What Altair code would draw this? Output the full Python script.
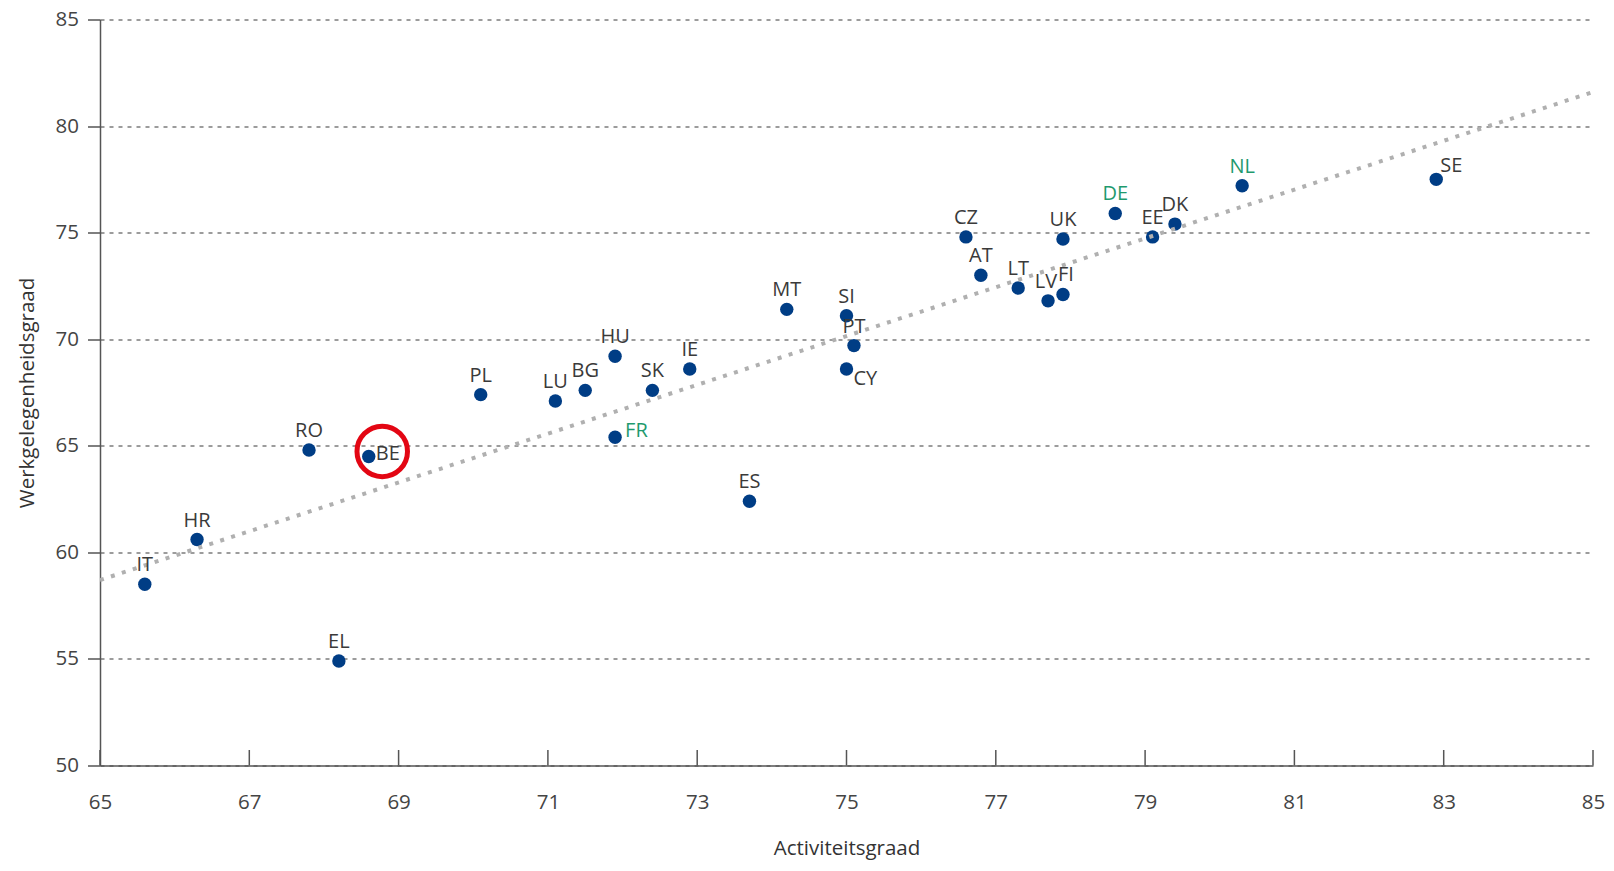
import altair as alt
import pandas as pd

countries = ["IT", "HR", "RO", "BE", "EL", "PL", "LU", "BG", "HU", "FR", "SK", "IE", "ES", "MT",
             "SI", "PT", "CY", "CZ", "AT", "LT", "LV", "FI", "UK", "DE", "EE", "DK", "NL", "SE"]
activiteitsgraad = [65.6, 66.3, 67.8, 68.6, 68.2, 70.1, 71.1, 71.5, 71.9, 71.9, 72.4, 72.9, 73.7, 74.2,
                    75.0, 75.1, 75.0, 76.6, 76.8, 77.3, 77.7, 77.9, 77.9, 78.6, 79.1, 79.4, 80.3, 82.9]
werkgelegenheidsgraad = [58.5, 60.6, 64.8, 64.5, 54.9, 67.4, 67.1, 67.6, 69.2, 65.4, 67.6, 68.6, 62.4, 71.4,
                         71.1, 69.7, 68.6, 74.8, 73.0, 72.4, 71.8, 72.1, 74.7, 75.9, 74.8, 75.4, 77.2, 77.5]
green_labels = ["DE", "NL", "FR"]
highlight = ["BE"]

trend_x = [65, 85]
trend_y = [58.7, 81.6]

x_ticks = [65, 67, 69, 71, 73, 75, 77, 79, 81, 83, 85]
y_ticks = [50, 55, 60, 65, 70, 75, 80, 85]

df = pd.DataFrame({"country": countries, "x": activiteitsgraad, "y": werkgelegenheidsgraad})
trend = pd.DataFrame({"x": trend_x, "y": trend_y})
ticks = pd.DataFrame({"x": x_ticks})

FONT = "Open Sans"
W, H = 1493, 746
LBL = 20
TICKFS = 20.5

xscale = alt.Scale(domain=[65, 85], nice=False, zero=False)
yscale = alt.Scale(domain=[50, 85], nice=False, zero=False)

x_enc = alt.X("x:Q", scale=xscale, axis=alt.Axis(
    values=x_ticks, format="d", title="Activiteitsgraad", grid=False, ticks=False, tickSize=0,
    labelPadding=27, labelFontSize=TICKFS, labelColor="#444", labelFont=FONT, labelFlush=False,
    titleFont=FONT, titleFontSize=20.5, titleFontWeight="normal", titleColor="#333", titlePadding=25,
    domainColor="#555", domainWidth=1.5))
y_enc = alt.Y("y:Q", scale=yscale, axis=alt.Axis(
    values=y_ticks, format="d", title="Werkgelegenheidsgraad", grid=True, gridColor="#3a3a3a",
    gridDash=[4, 5], gridWidth=1.2, tickSize=12.5, tickColor="#555", tickWidth=1.5, labelPadding=9,
    labelFontSize=TICKFS, labelColor="#444", labelFont=FONT, labelFlush=False, titleFont=FONT,
    titleFontSize=20.5, titleFontWeight="normal", titleColor="#333", titlePadding=18,
    domainColor="#555", domainWidth=1.5))

base = alt.Chart(df)

trend_line = alt.Chart(trend).mark_line(color="#b0b0b0", strokeWidth=4, strokeDash=[4, 7.5], clip=True).encode(
    x=alt.X("x:Q", scale=xscale), y=alt.Y("y:Q", scale=yscale))

inner_ticks = alt.Chart(ticks).mark_rule(color="#555", strokeWidth=1.5).encode(
    x=alt.X("x:Q", scale=xscale), y=alt.value(H), y2=alt.value(H - 15.5))

points = base.mark_circle(size=180, opacity=1, color="#003d85").encode(x=x_enc, y=y_enc)

label_color = alt.condition(alt.FieldOneOfPredicate(field="country", oneOf=green_labels),
                            alt.value("#1f9a6e"), alt.value("#3a3a3a"))

special = ["BE", "FR", "CY", "SE", "LV", "FI"]

labels_above = base.transform_filter(
    ~alt.FieldOneOfPredicate(field="country", oneOf=special)
).mark_text(font=FONT, fontSize=LBL, align="center", baseline="alphabetic", dy=-13).encode(
    x=alt.X("x:Q", scale=xscale), y=alt.Y("y:Q", scale=yscale), text="country:N", color=label_color)

def side_label(code, dx, dy, align="left"):
    return base.transform_filter(alt.datum.country == code).mark_text(
        font=FONT, fontSize=LBL, align=align, baseline="alphabetic", dx=dx, dy=dy).encode(
        x=alt.X("x:Q", scale=xscale), y=alt.Y("y:Q", scale=yscale), text="country:N", color=label_color)

circle = base.transform_filter(
    alt.FieldOneOfPredicate(field="country", oneOf=highlight)
).mark_point(shape="circle", filled=False, size=2550, strokeWidth=5, color="#e30613", opacity=1,
             xOffset=13.5, yOffset=-5).encode(x=alt.X("x:Q", scale=xscale), y=alt.Y("y:Q", scale=yscale))

chart = alt.layer(
    points, trend_line, inner_ticks, labels_above,
    side_label("BE", 7, 3.5), side_label("FR", 10, -0.5), side_label("CY", 7, 15.5), side_label("SE", 4, -7),
    side_label("LV", -2, -13, "center"), side_label("FI", 3, -13, "center"),
    circle
).properties(
    width=W, height=H,
    autosize=alt.AutoSizeParams(type="none"),
    padding={"left": 92, "top": 11.5, "right": 13, "bottom": 97.5},
    background="white"
).configure_view(stroke=None)

chart.save("out.html", embed_options={"renderer": "svg", "actions": False})
